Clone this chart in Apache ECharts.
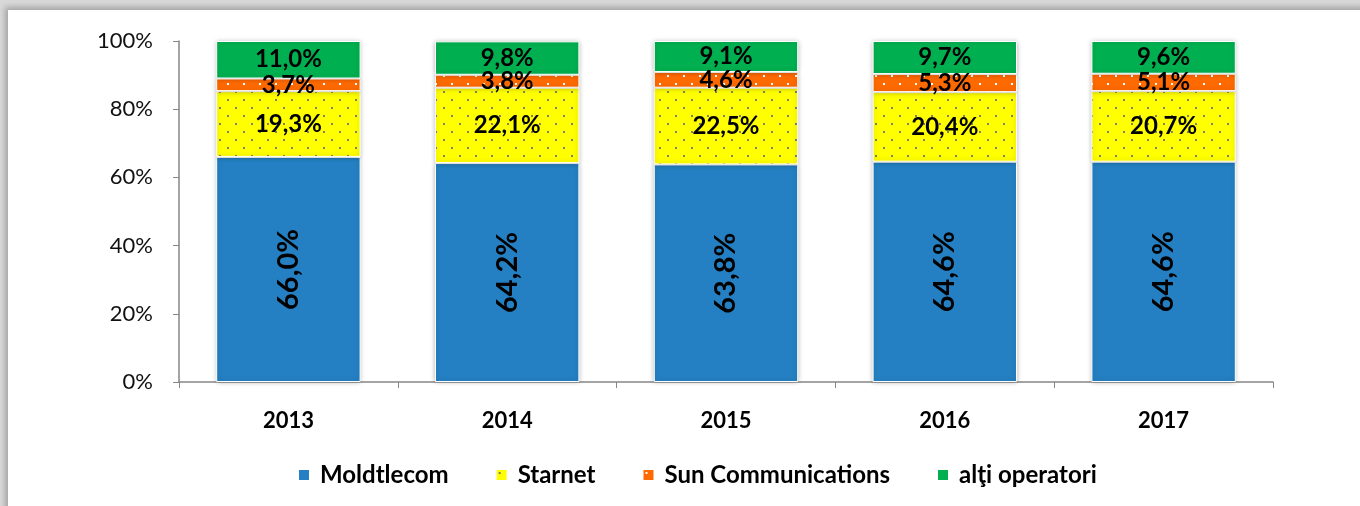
<!DOCTYPE html>
<html>
<head>
<meta charset="utf-8">
<script src="https://cdn.jsdelivr.net/npm/echarts@6/dist/echarts.min.js"></script>
<style>
  html, body { margin: 0; padding: 0; background: #d9d9d9; }
  #frame {
    position: absolute; left: 8px; top: 10px; width: 1400px; height: 560px;
    background: #fff; box-shadow: -3px -3px 6px rgba(0,0,0,0.25);
  }
  #chart { position: absolute; left: 0; top: 0; width: 1360px; height: 506px; }
</style>
</head>
<body>
<div id="frame"></div>
<div id="chart"></div>
<script>
// categorii
const years = ['2013', '2014', '2015', '2016', '2017']
// cote de piata, %
const moldtelecom = [66.0, 64.2, 63.8, 64.6, 64.6]
const starnet = [19.3, 22.1, 22.5, 20.4, 20.7]
const sunComm = [3.7, 3.8, 4.6, 5.3, 5.1]
const altii = [11.0, 9.8, 9.1, 9.7, 9.6]
const yTicks = [0, 20, 40, 60, 80, 100]

// fundal cu puncte pentru Starnet / Sun Communications
function dots(bg, dot) {
  const c = document.createElement('canvas')
  c.width = 16
  c.height = 16
  const g = c.getContext('2d')
  g.fillStyle = bg
  g.fillRect(0, 0, 16, 16)
  g.fillStyle = dot
  g.fillRect(3, 3, 2, 2)
  g.fillRect(11, 11, 2, 2)
  return { image: c, repeat: 'repeat' }
}

const chart = echarts.init(document.getElementById('chart'))
const fmt = p => p.value.toFixed(1).replace('.', ',') + '%'
const font = 'Lato, "Noto Sans", sans-serif'

function serie(name, data, color, extraLabel) {
  return {
    name: name,
    type: 'bar',
    stack: 'total',
    barWidth: '66%',
    data: data,
    itemStyle: {
      color: color,
      borderColor: '#fff',
      borderWidth: 1,
      shadowBlur: 5,
      shadowColor: 'rgba(0,0,0,0.25)'
    },
    label: Object.assign({
      show: true,
      position: 'inside',
      formatter: fmt,
      color: '#000',
      fontFamily: font,
      fontWeight: 'bold',
      fontSize: 24
    }, extraLabel || {})
  }
}

const option = {
  animation: false,
  backgroundColor: 'transparent',
  grid: { left: 179, right: 87, top: 41, bottom: 124 },
  legend: {
    bottom: 14,
    left: 292,
    icon: 'rect',
    itemWidth: 12,
    itemHeight: 12,
    itemGap: 46,
    textStyle: { fontFamily: font, fontWeight: 'bold', fontSize: 24, color: '#000', padding: [0, 0, 0, 5] },
    data: ['Moldtlecom', 'Starnet', 'Sun Communications', 'alţi operatori']
  },
  xAxis: {
    type: 'category',
    data: years,
    axisLine: { lineStyle: { color: '#868686', width: 1.5 } },
    axisTick: { show: true, length: 6, lineStyle: { color: '#868686' } },
    axisLabel: { margin: 28, fontFamily: font, fontWeight: 'bold', fontSize: 22, color: '#000' }
  },
  yAxis: {
    type: 'value',
    min: yTicks[0],
    max: yTicks[yTicks.length - 1],
    interval: 20,
    splitLine: { show: false },
    axisLine: { show: true, lineStyle: { color: '#868686', width: 1.5 } },
    axisTick: { show: true, length: 6, lineStyle: { color: '#868686' } },
    axisLabel: { formatter: '{value}%', margin: 26, fontFamily: font, fontSize: 22, color: '#111' }
  },
  series: [
    serie('Moldtlecom', moldtelecom, '#2480c2', { rotate: 90, fontSize: 29 }),
    serie('Starnet', starnet, dots('#ffff00', '#7f7f7f')),
    serie('Sun Communications', sunComm, dots('#ff6a00', '#ffffff')),
    serie('alţi operatori', altii, '#00b050')
  ]
}
chart.setOption(option, true)
</script>
</body>
</html>
